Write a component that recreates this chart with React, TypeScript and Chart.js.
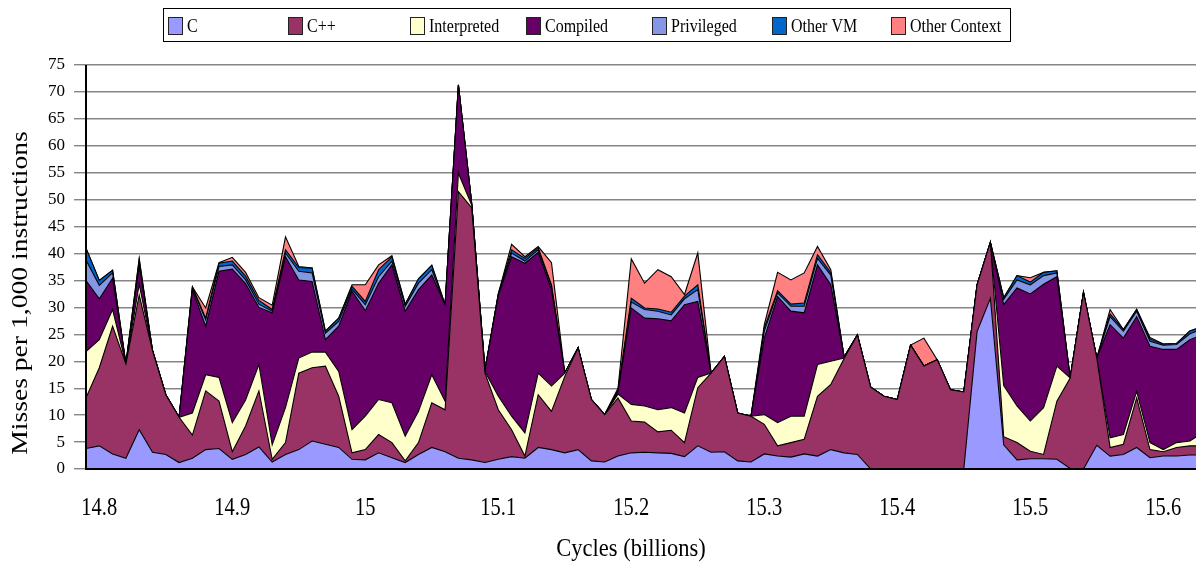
import React, { useEffect, useRef } from "react";
import { Chart, registerables } from "chart.js";

Chart.register(...registerables);

const CYCLES = [
  14.79, 14.8, 14.81, 14.82, 14.83, 14.84, 14.85, 14.86, 14.87, 14.88,
  14.89, 14.9, 14.91, 14.92, 14.93, 14.94, 14.95, 14.96, 14.97, 14.98,
  14.99, 15.0, 15.01, 15.02, 15.03, 15.04, 15.05, 15.06, 15.07, 15.08,
  15.09, 15.1, 15.11, 15.12, 15.13, 15.14, 15.15, 15.16, 15.17, 15.18,
  15.19, 15.2, 15.21, 15.22, 15.23, 15.24, 15.25, 15.26, 15.27, 15.28,
  15.29, 15.3, 15.31, 15.32, 15.33, 15.34, 15.35, 15.36, 15.37, 15.38,
  15.39, 15.4, 15.41, 15.42, 15.43, 15.44, 15.45, 15.46, 15.47, 15.48,
  15.49, 15.5, 15.51, 15.52, 15.53, 15.54, 15.55, 15.56, 15.57, 15.58,
  15.59, 15.6, 15.61, 15.62, 15.63,
];

const C_VALUES = [
  3.8, 4.3, 2.8, 2.0, 7.3, 3.1, 2.7, 1.2, 2.0, 3.6,
  3.8, 1.8, 2.7, 4.1, 1.3, 2.7, 3.6, 5.2, 4.6, 4.0,
  1.8, 1.7, 3.0, 2.1, 1.2, 2.7, 4.0, 3.2, 2.0, 1.7,
  1.2, 1.8, 2.3, 2.0, 4.0, 3.6, 3.0, 3.6, 1.5, 1.3,
  2.4, 3.0, 3.1, 3.0, 2.9, 2.3, 4.3, 3.1, 3.2, 1.5,
  1.3, 2.8, 2.4, 2.2, 2.8, 2.4, 3.6, 3.0, 2.7, 0,
  0, 0, 0, 0, 0, 0, 0, 25.5, 31.7, 4.5,
  1.7, 1.9, 1.9, 1.8, 0.1, 0, 4.4, 2.4, 2.7, 4.0,
  2.1, 2.4, 2.4, 2.6, 2.6,
];

const CPP_VALUES = [
  9.4, 14.5, 23.7, 17.5, 25.0, 18.9, 11.1, 8.4, 4.3, 10.9,
  8.8, 1.4, 5.3, 10.4, 0.5, 2.2, 14.2, 13.6, 14.5, 9.5,
  1.2, 1.9, 3.4, 2.8, 0.3, 2.2, 8.3, 7.8, 49.5, 46.8,
  16.6, 9.2, 5.0, 0.4, 9.8, 7.1, 14.2, 18.9, 11.4, 8.8,
  10.8, 5.9, 5.6, 3.9, 4.3, 2.6, 10.8, 14.7, 17.7, 8.9,
  8.5, 5.5, 1.9, 2.7, 2.7, 11.1, 12.1, 17.5, 22.2, 15.2,
  13.5, 12.9, 23.0, 19.1, 20.3, 14.7, 14.3, 8.7, 10.4, 1.5,
  3.2, 1.4, 0.8, 10.8, 16.8, 32.8, 16.2, 1.6, 1.9, 9.2,
  1.5, 0.8, 1.6, 1.7, 1.7,
];

const INTERPRETED_VALUES = [
  8.6, 5.2, 3.1, 0, 2.0, 0, 0, 0, 4.1, 3.0,
  4.4, 5.4, 4.8, 4.9, 2.7, 6.5, 2.8, 2.9, 2.6, 4.6,
  4.3, 6.2, 6.5, 7.4, 4.6, 5.8, 5.2, 1.6, 3.4, 0.5,
  0.3, 2.5, 2.5, 4.3, 4.0, 4.7, 0.6, 0, 0, 0,
  0.7, 3.1, 3.0, 4.1, 4.2, 5.5, 1.9, 0, 0, 0,
  0, 1.8, 4.3, 4.9, 4.3, 5.9, 4.3, 0.1, 0, 0,
  0, 0, 0, 0, 0, 0, 0, 0, 0, 9.5,
  6.8, 5.6, 8.7, 6.5, 0, 0, 0, 1.8, 1.8, 1.2,
  1.3, 0.4, 0.9, 0.9, 2.5,
];

const COMPILED_VALUES = [
  13.2, 7.6, 5.8, 0, 3.5, 0, 0, 0, 22.8, 9.0,
  19.7, 28.5, 21.6, 10.6, 24.5, 28.0, 14.5, 13.1, 2.3, 8.4,
  25.7, 19.6, 21.6, 25.6, 23.2, 22.6, 18.5, 17.9, 16.4, 0.3,
  0.3, 18.7, 29.6, 31.5, 22.4, 17.9, 0, 0, 0, 0,
  0.4, 17.9, 16.3, 16.9, 16.1, 20.1, 14.1, 0, 0, 0,
  0, 14.2, 23.4, 19.5, 19.2, 18.5, 14.2, 0.2, 0, 0,
  0, 0, 0, 0, 0, 0, 0, 0, 0, 15.0,
  21.9, 23.6, 22.9, 16.6, 0, 0, 0, 21.0, 17.9, 13.9,
  17.9, 18.6, 17.3, 18.8, 18.2,
];

const PRIVILEGED_VALUES = [
  3.8, 2.5, 1.0, 0, 0.5, 0, 0, 0, 0.3, 1.2,
  0.9, 0.8, 0.7, 0.6, 0.3, 0.7, 1.6, 1.6, 1.2, 0.9,
  0.4, 1.1, 1.2, 0.7, 0.9, 1.2, 1.0, 0, 0, 0,
  0, 0.2, 0.7, 0.4, 0.5, 0.6, 0, 0, 0, 0,
  0.2, 1.1, 1.6, 1.4, 1.1, 1.1, 2.2, 0, 0, 0,
  0, 1.3, 0.7, 0.9, 1.2, 1.2, 1.8, 0, 0, 0,
  0, 0, 0, 0, 0, 0, 0, 0, 0, 1.0,
  1.5, 1.7, 1.6, 0.7, 0, 0, 0, 1.5, 1.3, 1.0,
  0.9, 0.8, 0.9, 1.1, 1.1,
];

const OTHER_VM_VALUES = [
  2.2, 0.9, 0.5, 0, 0.7, 0, 0, 0, 0.3, 0.3,
  0.6, 0.7, 0.7, 0.7, 0.3, 0.6, 0.7, 0.9, 0.4, 0.6,
  0.5, 0.6, 1.3, 0.8, 0.4, 0.8, 0.8, 0, 0, 0,
  0, 0.1, 0.6, 0.5, 0.4, 0.3, 0, 0, 0, 0,
  0.1, 0.7, 0.3, 0.4, 0.5, 0.5, 0.9, 0, 0, 0,
  0, 0.6, 0.4, 0.4, 0.6, 0.7, 0.5, 0, 0, 0,
  0, 0, 0, 0, 0, 0, 0, 0, 0, 0.3,
  0.8, 0.5, 0.6, 0.4, 0, 0, 0, 0.5, 0.3, 0.3,
  0.4, 0.2, 0.2, 0.5, 0.4,
];

const OTHER_CONTEXT_VALUES = [
  0, 0, 0, 0, 0, 0, 0, 0, 0, 1.9,
  0.1, 0.7, 0.7, 0.5, 0.8, 2.4, 0.2, 0, 0, 0,
  0.3, 3.1, 0.9, 0.2, 0, 0, 0, 0, 0, 0,
  0, 0, 1.0, 0.3, 0.2, 4.1, 0, 0, 0, 0,
  0.4, 7.3, 4.6, 7.3, 6.6, 0.3, 5.9, 0, 0, 0,
  0, 0.6, 3.4, 4.5, 5.6, 1.5, 0.5, 0, 0, 0,
  0, 0, 0, 5.2, 0, 0, 0, 0, 0, 0,
  0, 0.8, 0, 0, 0, 0, 0, 0.8, 0, 0.1,
  0.3, 0, 0, 0, 0,
];

const SERIES_NAMES = ["C", "C++", "Interpreted", "Compiled", "Privileged", "Other VM", "Other Context"];
const SERIES_COLORS = ["#9999FF", "#993366", "#FFFFCC", "#660066", "#8496E4", "#0066CC", "#FF8080"];
const SERIES_VALUES = [
  C_VALUES,
  CPP_VALUES,
  INTERPRETED_VALUES,
  COMPILED_VALUES,
  PRIVILEGED_VALUES,
  OTHER_VM_VALUES,
  OTHER_CONTEXT_VALUES,
];

const X_TITLE = "Cycles (billions)";
const Y_TITLE = "Misses per 1,000 instructions";

const X_MIN = 14.79;
const X_MAX = 15.6246;
const Y_MAX = 75;

const SERIF = '"Liberation Serif", "Times New Roman", Times, serif';

const LEGEND_BOX = { left: 163.5, top: 8.5, right: 1010.5, bottom: 41.5 };
const LEGEND_SWATCH_X = [168, 288, 410, 526, 652, 772, 891];

const fmtTick = (v: number) => String(Math.round(v * 10) / 10);

function drawStretched(ctx: CanvasRenderingContext2D, text: string, x: number, y: number, sy: number) {
  ctx.save();
  ctx.translate(x, y);
  ctx.scale(1, sy);
  ctx.fillText(text, 0, 0);
  ctx.restore();
}

const overlayPlugin = {
  id: "overlay",
  afterDraw(chart: any) {
    const ctx: CanvasRenderingContext2D = chart.ctx;
    const area = chart.chartArea;
    const xs = chart.scales.x;
    const ys = chart.scales.y;
    ctx.save();

    // axis lines
    ctx.strokeStyle = "#000";
    ctx.lineWidth = 2;
    ctx.beginPath();
    ctx.moveTo(area.left, ys.getPixelForValue(Y_MAX));
    ctx.lineTo(area.left, ys.getPixelForValue(0));
    ctx.lineTo(area.right, ys.getPixelForValue(0));
    ctx.stroke();

    // x tick labels
    ctx.fillStyle = "#000";
    ctx.font = `20.5px ${SERIF}`;
    ctx.textAlign = "center";
    ctx.textBaseline = "alphabetic";
    xs.ticks.forEach((t: any) => {
      const px = xs.getPixelForValue(t.value);
      drawStretched(ctx, fmtTick(t.value), px, 515, 1.2);
    });

    // x title
    ctx.font = `22.5px ${SERIF}`;
    drawStretched(ctx, X_TITLE, 631, 556, 1.15);

    // y title
    ctx.save();
    ctx.translate(27, 293);
    ctx.rotate(-Math.PI / 2);
    ctx.scale(1.2, 1);
    ctx.font = `23px ${SERIF}`;
    ctx.textAlign = "center";
    ctx.fillText(Y_TITLE, 0, 0);
    ctx.restore();

    // legend
    ctx.fillStyle = "#fff";
    ctx.fillRect(LEGEND_BOX.left, LEGEND_BOX.top, LEGEND_BOX.right - LEGEND_BOX.left, LEGEND_BOX.bottom - LEGEND_BOX.top);
    ctx.strokeStyle = "#000";
    ctx.lineWidth = 1;
    ctx.strokeRect(LEGEND_BOX.left, LEGEND_BOX.top, LEGEND_BOX.right - LEGEND_BOX.left, LEGEND_BOX.bottom - LEGEND_BOX.top);
    ctx.font = `16px ${SERIF}`;
    ctx.textAlign = "left";
    SERIES_NAMES.forEach((name, i) => {
      const sx = LEGEND_SWATCH_X[i];
      ctx.fillStyle = SERIES_COLORS[i];
      ctx.fillRect(sx, 17, 14, 17);
      ctx.strokeStyle = "#222";
      ctx.lineWidth = 1;
      ctx.strokeRect(sx + 0.5, 17.5, 14, 17);
      ctx.fillStyle = "#000";
      drawStretched(ctx, name, sx + 19, 31.7, 1.15);
    });

    ctx.restore();
  },
};

export default function App() {
  const canvasRef = useRef<HTMLCanvasElement | null>(null);

  useEffect(() => {
    if (!canvasRef.current) return;
    const datasets = SERIES_NAMES.map((name, i) => ({
      label: name,
      data: CYCLES.map((x, j) => ({ x, y: SERIES_VALUES[i][j] })),
      backgroundColor: SERIES_COLORS[i],
      borderColor: "#000",
      borderWidth: 1.1,
      fill: i === 0 ? "origin" : "-1",
      pointRadius: 0,
      pointHoverRadius: 0,
      tension: 0,
    }));

    const chart = new Chart(canvasRef.current, {
      type: "line",
      data: { datasets },
      options: {
        responsive: false,
        animation: false,
        devicePixelRatio: 1,
        layout: { padding: { top: 65, left: 0, right: 0, bottom: 0 } },
        plugins: {
          legend: { display: false },
          tooltip: { enabled: false },
        },
        scales: {
          x: {
            type: "linear",
            min: X_MIN,
            max: X_MAX,
            grid: { display: false, drawTicks: false },
            border: { display: false },
            ticks: { display: false, stepSize: 0.1, includeBounds: false },
            afterFit: (scale: any) => {
              scale.height = 96;
            },
          },
          y: {
            stacked: true,
            min: 0,
            max: Y_MAX,
            border: { display: false },
            grid: { color: "#858585", lineWidth: 1.4, tickLength: 12, drawTicks: true },
            ticks: {
              stepSize: 5,
              padding: 9,
              color: "#000",
              font: { family: SERIF, size: 17 },
            },
            afterFit: (scale: any) => {
              scale.width = 86;
            },
          },
        },
      },
      plugins: [overlayPlugin],
    } as any);

    return () => chart.destroy();
  }, []);

  return (
    <div style={{ position: "fixed", left: 0, top: 0, width: 1196, height: 565, background: "#fff" }}>
      <canvas ref={canvasRef} width={1196} height={565} style={{ display: "block" }} />
    </div>
  );
}
